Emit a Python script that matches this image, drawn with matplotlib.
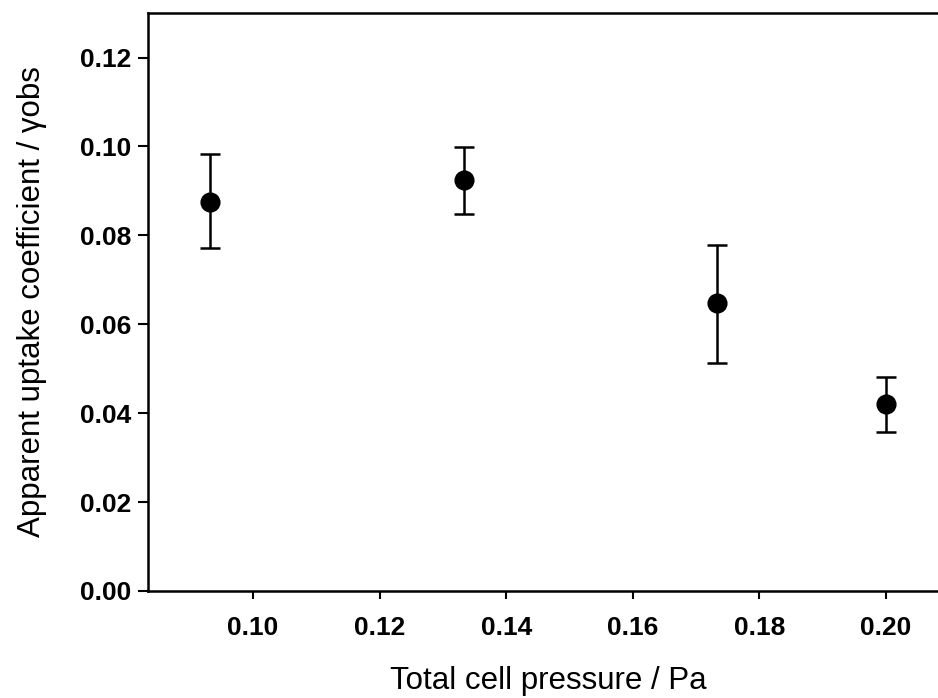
import matplotlib.pyplot as plt

pressure = [0.0932, 0.1334, 0.1733, 0.2000]
gamma_obs = [0.0876, 0.0924, 0.0647, 0.0420]
err_low = [0.0105, 0.0075, 0.0135, 0.0063]
err_high = [0.0106, 0.0074, 0.0131, 0.0061]

x_ticks = [0.10, 0.12, 0.14, 0.16, 0.18, 0.20]
y_ticks = [0.00, 0.02, 0.04, 0.06, 0.08, 0.10, 0.12]

plt.rcParams['font.family'] = ['Liberation Sans', 'DejaVu Sans']

fig = plt.figure(figsize=(9.38, 6.98), dpi=100)
ax = fig.add_axes([0.1578, 0.1533, 0.854, 0.828])

ax.errorbar(pressure, gamma_obs, yerr=[err_low, err_high], fmt='o', color='black',
            markersize=13.5, capsize=7, elinewidth=1.8, capthick=1.8)

ax.set_xlim(0.0834, 0.21)
ax.set_ylim(0.0, 0.13)
ax.set_xticks(x_ticks)
ax.set_yticks(y_ticks)
ax.set_xticklabels(['%.2f' % v for v in x_ticks], fontweight='bold', fontsize=19)
ax.set_yticklabels(['%.2f' % v for v in y_ticks], fontweight='bold', fontsize=19)
ax.tick_params(axis='y', direction='out', length=7, width=1.5, pad=5)
ax.tick_params(axis='x', direction='out', length=6, width=1.5, pad=12)

for s in ax.spines.values():
    s.set_linewidth(1.8)

ax.set_xlabel('Total cell pressure / Pa', fontsize=22.5, labelpad=19)
ax.set_ylabel('Apparent uptake coefficient / γobs', fontsize=22.5, labelpad=24)

fig.savefig('out.png', dpi=100)
